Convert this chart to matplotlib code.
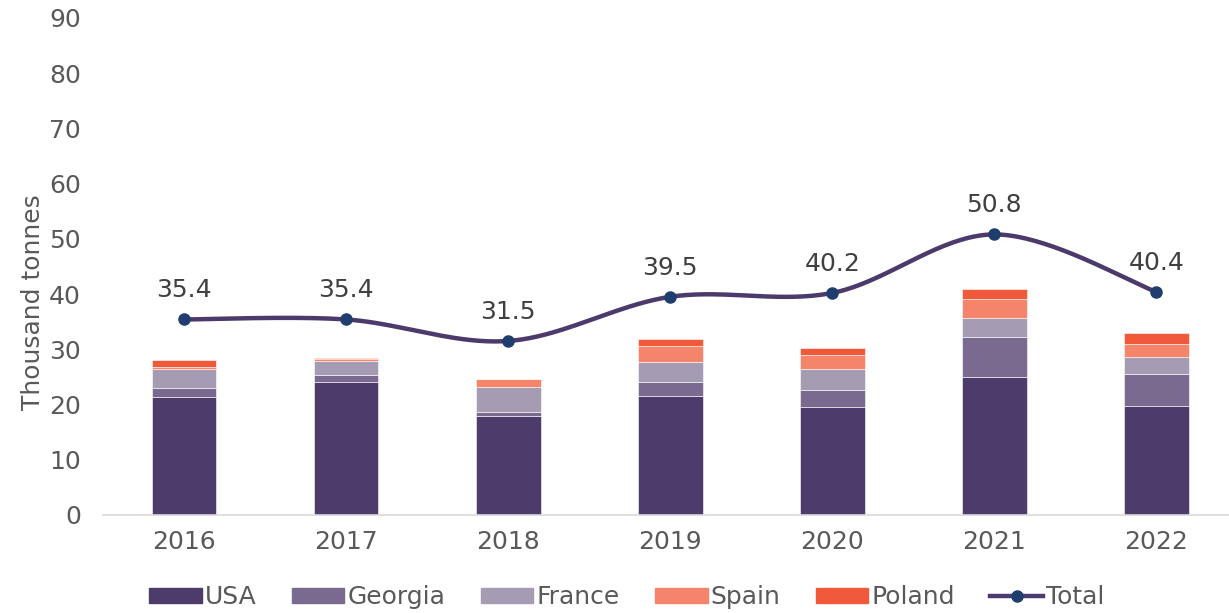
import numpy as np
import matplotlib.pyplot as plt
from matplotlib.lines import Line2D
from matplotlib.patches import Patch

# data (thousand tonnes)
years   = ['2016', '2017', '2018', '2019', '2020', '2021', '2022']
usa     = [21.4, 24.1, 18.0, 21.5, 19.5, 24.9, 19.8]
georgia = [1.6, 1.3, 0.7, 2.6, 3.2, 7.4, 5.8]
france  = [3.4, 2.5, 4.4, 3.6, 3.7, 3.4, 3.0]
spain   = [0.4, 0.4, 1.5, 2.9, 2.5, 3.4, 2.4]
poland  = [1.3, 0.1, 0.0, 1.3, 1.3, 1.8, 1.9]
total   = [35.4, 35.4, 31.5, 39.5, 40.2, 50.8, 40.4]

series = [('USA', usa, '#4d3b6b'),
          ('Georgia', georgia, '#7a6a8f'),
          ('France', france, '#a59cb4'),
          ('Spain', spain, '#f4846a'),
          ('Poland', poland, '#f05a3a')]

txt = '#595959'
fs = 18
plt.rcParams['font.family'] = 'DejaVu Sans'

fig = plt.figure(figsize=(12.29, 6.13), dpi=100)
ax = fig.add_axes([0.0838, 0.16, 0.923, 0.8107])

x = np.arange(len(years))
bottom = np.zeros(len(years))
for name, vals, col in series:
    ax.bar(x, vals, 0.4, bottom=bottom, color=col, edgecolor='white',
           linewidth=0.4, label=name, zorder=2)
    bottom += np.array(vals)

# smoothed line like excel (catmull-rom through the points)
def smooth(xs, ys, n=40):
    px = np.concatenate([[xs[0]], xs, [xs[-1]]])
    py = np.concatenate([[ys[0]], ys, [ys[-1]]])
    ox, oy = [], []
    for i in range(1, len(px) - 2):
        t = np.linspace(0, 1, n)
        for p, out in ((px, ox), (py, oy)):
            p0, p1, p2, p3 = p[i-1], p[i], p[i+1], p[i+2]
            out.extend(0.5 * ((2*p1) + (-p0 + p2)*t +
                              (2*p0 - 5*p1 + 4*p2 - p3)*t**2 +
                              (-p0 + 3*p1 - 3*p2 + p3)*t**3))
    return np.array(ox), np.array(oy)

sx, sy = smooth(x.astype(float), np.array(total, dtype=float))
ax.plot(sx, sy, color='#4b3a6b', lw=3.2, zorder=3, solid_capstyle='round')
ax.plot(x, total, 'o', color='#1f3d6e', ms=8, zorder=4)
for xi, v in zip(x, total):
    ax.annotate(f'{v:.1f}', (xi, v), xytext=(0, 16), textcoords='offset points',
                ha='center', va='baseline', fontsize=fs, color='#404040')

ax.set_xlim(-0.5, 6.5)
ax.set_ylim(0, 90)
ax.set_yticks(range(0, 91, 10))
ax.set_xticks(x)
ax.set_xticklabels(years)
ax.tick_params(axis='both', length=0, labelsize=fs, labelcolor=txt)
ax.tick_params(axis='x', pad=11)
ax.tick_params(axis='y', pad=16)
for s in ['top', 'right', 'left']:
    ax.spines[s].set_visible(False)
ax.spines['bottom'].set_color('#d9d9d9')
ax.spines['bottom'].set_linewidth(1.2)
fig.text(33 / 1229, 1 - 302 / 613, 'Thousand tonnes', rotation=90,
         ha='center', va='center', fontsize=fs, color=txt)

handles = [Patch(color=c, label=n) for n, _, c in series]
handles.append(Line2D([], [], color='#4b3a6b', lw=3.2, marker='o',
                      mfc='#1f3d6e', mec='#1f3d6e', ms=8, label='Total'))
fig.legend(handles=handles, loc='center', ncol=6, frameon=False,
           bbox_to_anchor=(0.51, 1 - 597 / 613), fontsize=fs, labelcolor=txt,
           handlelength=2.1, handleheight=0.55, handletextpad=0.12,
           columnspacing=1.42, borderpad=0)

fig.savefig('out.png', dpi=100)
